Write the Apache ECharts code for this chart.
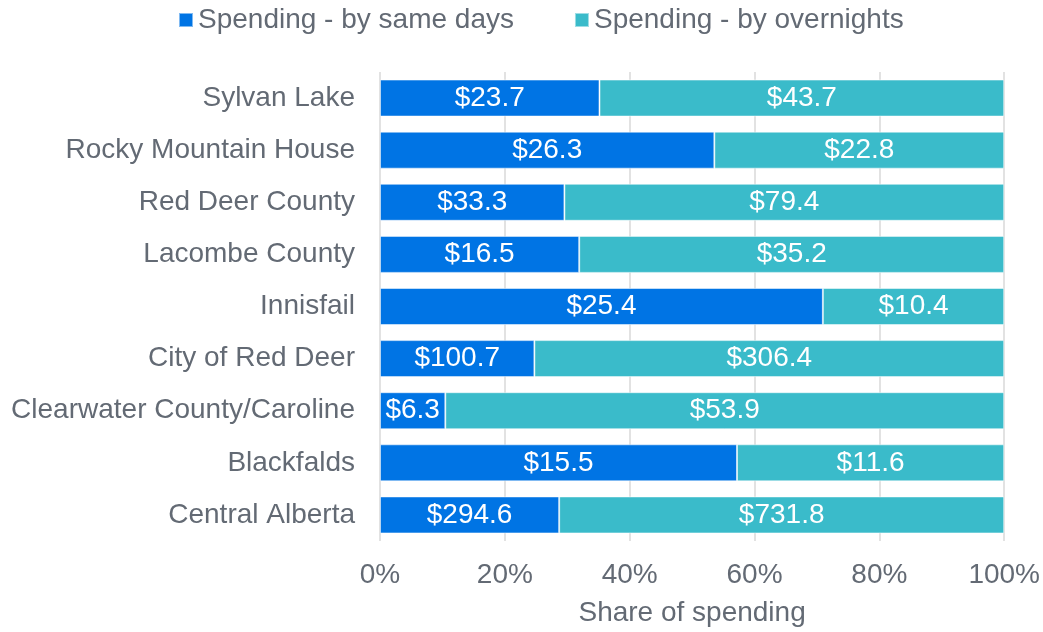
<!DOCTYPE html>
<html>
<head>
<meta charset="utf-8">
<script src="https://cdn.jsdelivr.net/npm/echarts@6/dist/echarts.min.js"></script>
<style>
html,body{margin:0;padding:0;background:#fff;}
#main{width:1043px;height:632px;}
</style>
</head>
<body>
<div id="main"></div>
<script>
// data
var categories = ['Sylvan Lake','Rocky Mountain House','Red Deer County','Lacombe County','Innisfail',
	'City of Red Deer','Clearwater County/Caroline','Blackfalds','Central Alberta'];
var sameDays = [23.7, 26.3, 33.3, 16.5, 25.4, 100.7, 6.3, 15.5, 294.6];
var overnights = [43.7, 22.8, 79.4, 35.2, 10.4, 306.4, 53.9, 11.6, 731.8];
var seriesNames = ['Spending - by same days','Spending - by overnights'];
var xTicks = [0, 20, 40, 60, 80, 100];

var textColor = '#636a74';
var font = 'Liberation Sans, Arial, sans-serif';

// share of spending, bar length is % but label is $
function shares(a, b){
	var out = [];
	for(var i = 0; i < a.length; i++){
		out.push({value: a[i] / (a[i] + b[i]) * 100, raw: a[i]});
	}
	return out;
}
var sameShare = shares(sameDays, overnights);
var overShare = shares(overnights, sameDays);

var chart = echarts.init(document.getElementById('main'));
var barLabel = {
	show: true,
	position: 'inside',
	color: '#fff',
	fontSize: 28,
	fontFamily: font,
	formatter: function(p){ return '$' + p.data.raw; }
};
var option = {
	animation: false,
	legend: {
		data: seriesNames,
		left: 178,
		top: 6,
		padding: 0,
		icon: 'rect',
		itemWidth: 14,
		itemHeight: 14,
		itemGap: 60,
		textStyle: {color: textColor, fontSize: 28, fontFamily: font}
	},
	grid: {
		left: 380,
		right: 36,
		top: 72,
		bottom: 89,
		containLabel: false
	},
	xAxis: {
		type: 'value',
		min: xTicks[0],
		max: xTicks[xTicks.length - 1],
		interval: 20,
		name: 'Share of spending',
		nameLocation: 'middle',
		nameGap: 58,
		nameTextStyle: {color: textColor, fontSize: 28, fontFamily: font},
		axisLine: {show: false},
		axisTick: {show: false},
		axisLabel: {color: textColor, fontSize: 28, fontFamily: font, margin: 20, formatter: '{value}%'},
		splitLine: {show: true, lineStyle: {color: '#d9d9d9', width: 1.5}}
	},
	yAxis: {
		type: 'category',
		data: categories,
		inverse: true,
		axisLine: {show: false},
		axisTick: {show: false},
		axisLabel: {color: textColor, fontSize: 28, fontFamily: font, margin: 25}
	},
	series: [{
		name: seriesNames[0],
		type: 'bar',
		stack: 'total',
		barWidth: 37,
		itemStyle: {color: '#0074e4', borderColor: 'rgba(255,255,255,0.5)', borderWidth: 1},
		label: barLabel,
		data: sameShare
	},
	{
		name: seriesNames[1],
		type: 'bar',
		stack: 'total',
		barWidth: 37,
		itemStyle: {color: '#3abbca', borderColor: 'rgba(255,255,255,0.5)', borderWidth: 1},
		label: barLabel,
		data: overShare
	}]
};
chart.setOption(option);
</script>
</body>
</html>
